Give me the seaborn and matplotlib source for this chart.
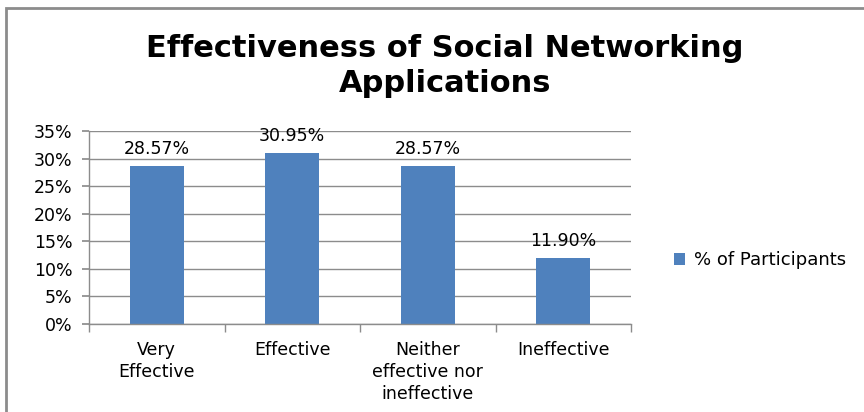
import matplotlib
matplotlib.use("Agg")
import matplotlib.pyplot as plt
import seaborn as sns
import pandas as pd
from matplotlib.patches import Rectangle
from matplotlib.ticker import FuncFormatter, FixedLocator

categories = ["Very\nEffective", "Effective", "Neither\neffective nor\nineffective", "Ineffective"]
values = [28.57, 30.95, 28.57, 11.90]
value_labels = ["28.57%", "30.95%", "28.57%", "11.90%"]
series_name = "% of Participants"
title = "Effectiveness of Social Networking\nApplications"

sns.set_theme(style="white")
plt.rcParams["font.family"] = ["DejaVu Sans"]
plt.rcParams["text.color"] = "black"

df = pd.DataFrame({"cat": categories, "val": values})

fig = plt.figure(figsize=(8.64, 4.12), dpi=100)
ax = fig.add_axes([89/864, 1-324/412, (631-89)/864, (324-131)/412])

bar_color = "#4F81BD"
sns.barplot(data=df, x="cat", y="val", color=bar_color, width=0.4,
            label=series_name, ax=ax, saturation=1, errorbar=None, linewidth=0)

fs = 12.5
ax.set_ylim(0, 35)
ax.set_xlim(-0.5, 3.5)
ax.set_yticks(range(0, 36, 5))
ax.yaxis.set_major_formatter(FuncFormatter(lambda v, p: f"{int(v)}%"))
ax.grid(axis="y", color="#8c8c8c", linewidth=1)
ax.set_axisbelow(True)
for s in ["top", "right"]:
    ax.spines[s].set_visible(False)
for s in ["left", "bottom"]:
    ax.spines[s].set_color("#8c8c8c")
    ax.spines[s].set_linewidth(1)
ax.set_xlabel("")
ax.set_ylabel("")
ax.tick_params(axis="y", which="major", left=True, length=5, color="#8c8c8c",
               labelsize=fs, labelcolor="black", pad=7)
ax.tick_params(axis="x", which="major", bottom=False, length=0, labelsize=fs,
               labelcolor="black", pad=12)
ax.xaxis.set_minor_locator(FixedLocator([-0.5, 0.5, 1.5, 2.5, 3.5]))
ax.tick_params(axis="x", which="minor", bottom=True, length=6, color="#8c8c8c")
for lab in ax.get_xticklabels():
    lab.set_linespacing(1.3)

for c in ax.containers:
    ax.bar_label(c, labels=value_labels, padding=6, fontsize=fs, color="black")

fig.text(0.515, 1-66/412, title, ha="center", va="center", fontsize=22,
         fontweight="bold", linespacing=1.25, color="black")

leg = ax.legend(loc="center left", bbox_to_anchor=(1.05, 0.33), frameon=False,
                fontsize=fs + 0.5, handlelength=0.6, handleheight=0.6, handletextpad=0.5,
                labelcolor="black")

fig.patches.append(Rectangle((6/864, -0.1), 1.2, 1 - 8/412 + 0.1,
                             transform=fig.transFigure, fill=False,
                             edgecolor="#8c8c8c", linewidth=2))

fig.savefig("out.png", dpi=100)
